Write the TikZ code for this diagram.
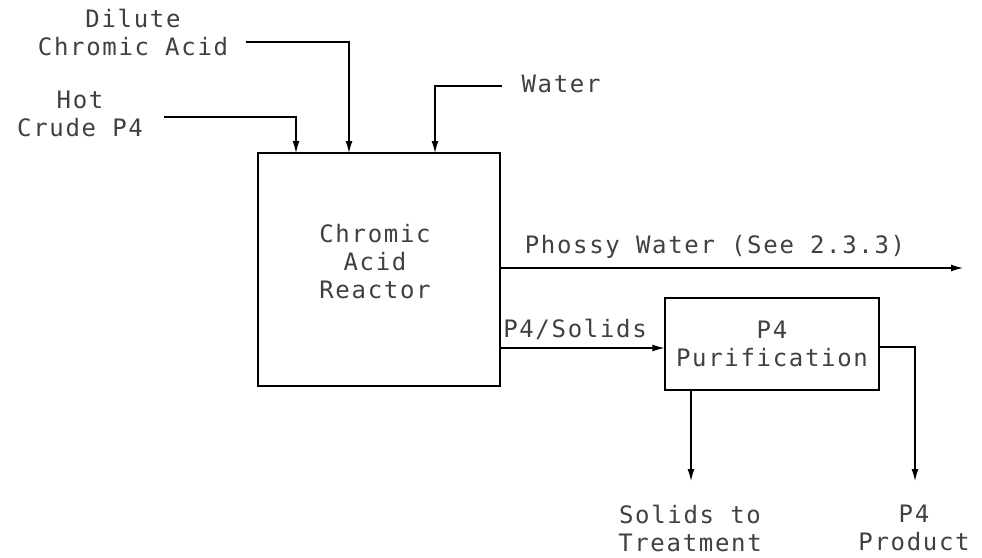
\documentclass[tikz,border=0pt]{standalone}
\usepackage{fontspec}
\setmainfont{DejaVu Sans Mono}[LetterSpace=7]
\usetikzlibrary{arrows.meta}
\begin{document}
\begin{tikzpicture}[x=1pt,y=-1pt,
  lbl/.style={font=\fontsize{24}{28}\selectfont, align=center, inner sep=0pt, text=black!75},
  box/.style={draw, line width=1.2pt, inner sep=0pt},
  flow/.style={draw, line width=1.2pt, -{Latex[length=12pt,width=7pt]}}]
\useasboundingbox (0,0) rectangle (982,557);
% process boxes
\node[box, minimum width=242pt, minimum height=233pt] (reactor) at (379,269.5) {};
\node[lbl] (rtext) at (375,262) {Chromic\\Acid\\Reactor};
\node[box, lbl, minimum width=214pt, minimum height=92pt] (purif) at (772,344) {P4\\Purification};
% stream labels
\node[lbl] (dilute) at (133,32) {Dilute\\Chromic Acid};
\node[lbl] (hot) at (80,114) {Hot\\Crude P4};
\node[lbl] (water) at (561,84) {Water};
\node[lbl] (phossy) at (715,247) {Phossy Water (See 2.3.3)};
\node[lbl] (p4s) at (575,329) {P4/Solids};
\node[lbl] (solids) at (690,528) {Solids to\\Treatment};
\node[lbl] (product) at (914,528) {P4\\Product};
% connector end points
\coordinate (hcS) at (164,117);
\coordinate (hcE) at (296,153);
\coordinate (dcS) at (246,42);
\coordinate (dcE) at (349,153);
\coordinate (wS) at (502,86);
\coordinate (wE) at (435,153);
\coordinate (pwS) at (500,268);
\coordinate (pwE) at (963,268);
\coordinate (psS) at (500,348);
\coordinate (trS) at (691,390);
\coordinate (trE) at (691,481);
\coordinate (prS) at (879,347);
\coordinate (prE) at (915,481);
% connectors
\draw[flow] (hcS) -| (hcE);
\draw[flow] (dcS) -| (dcE);
\draw[flow] (wS) -| (wE);
\draw[flow] (pwS) -- (pwE);
\draw[flow] (psS) -- (purif.west |- psS);
\draw[flow] (trS) -- (trE);
\draw[flow] (prS) -| (prE);
\end{tikzpicture}
\end{document}
